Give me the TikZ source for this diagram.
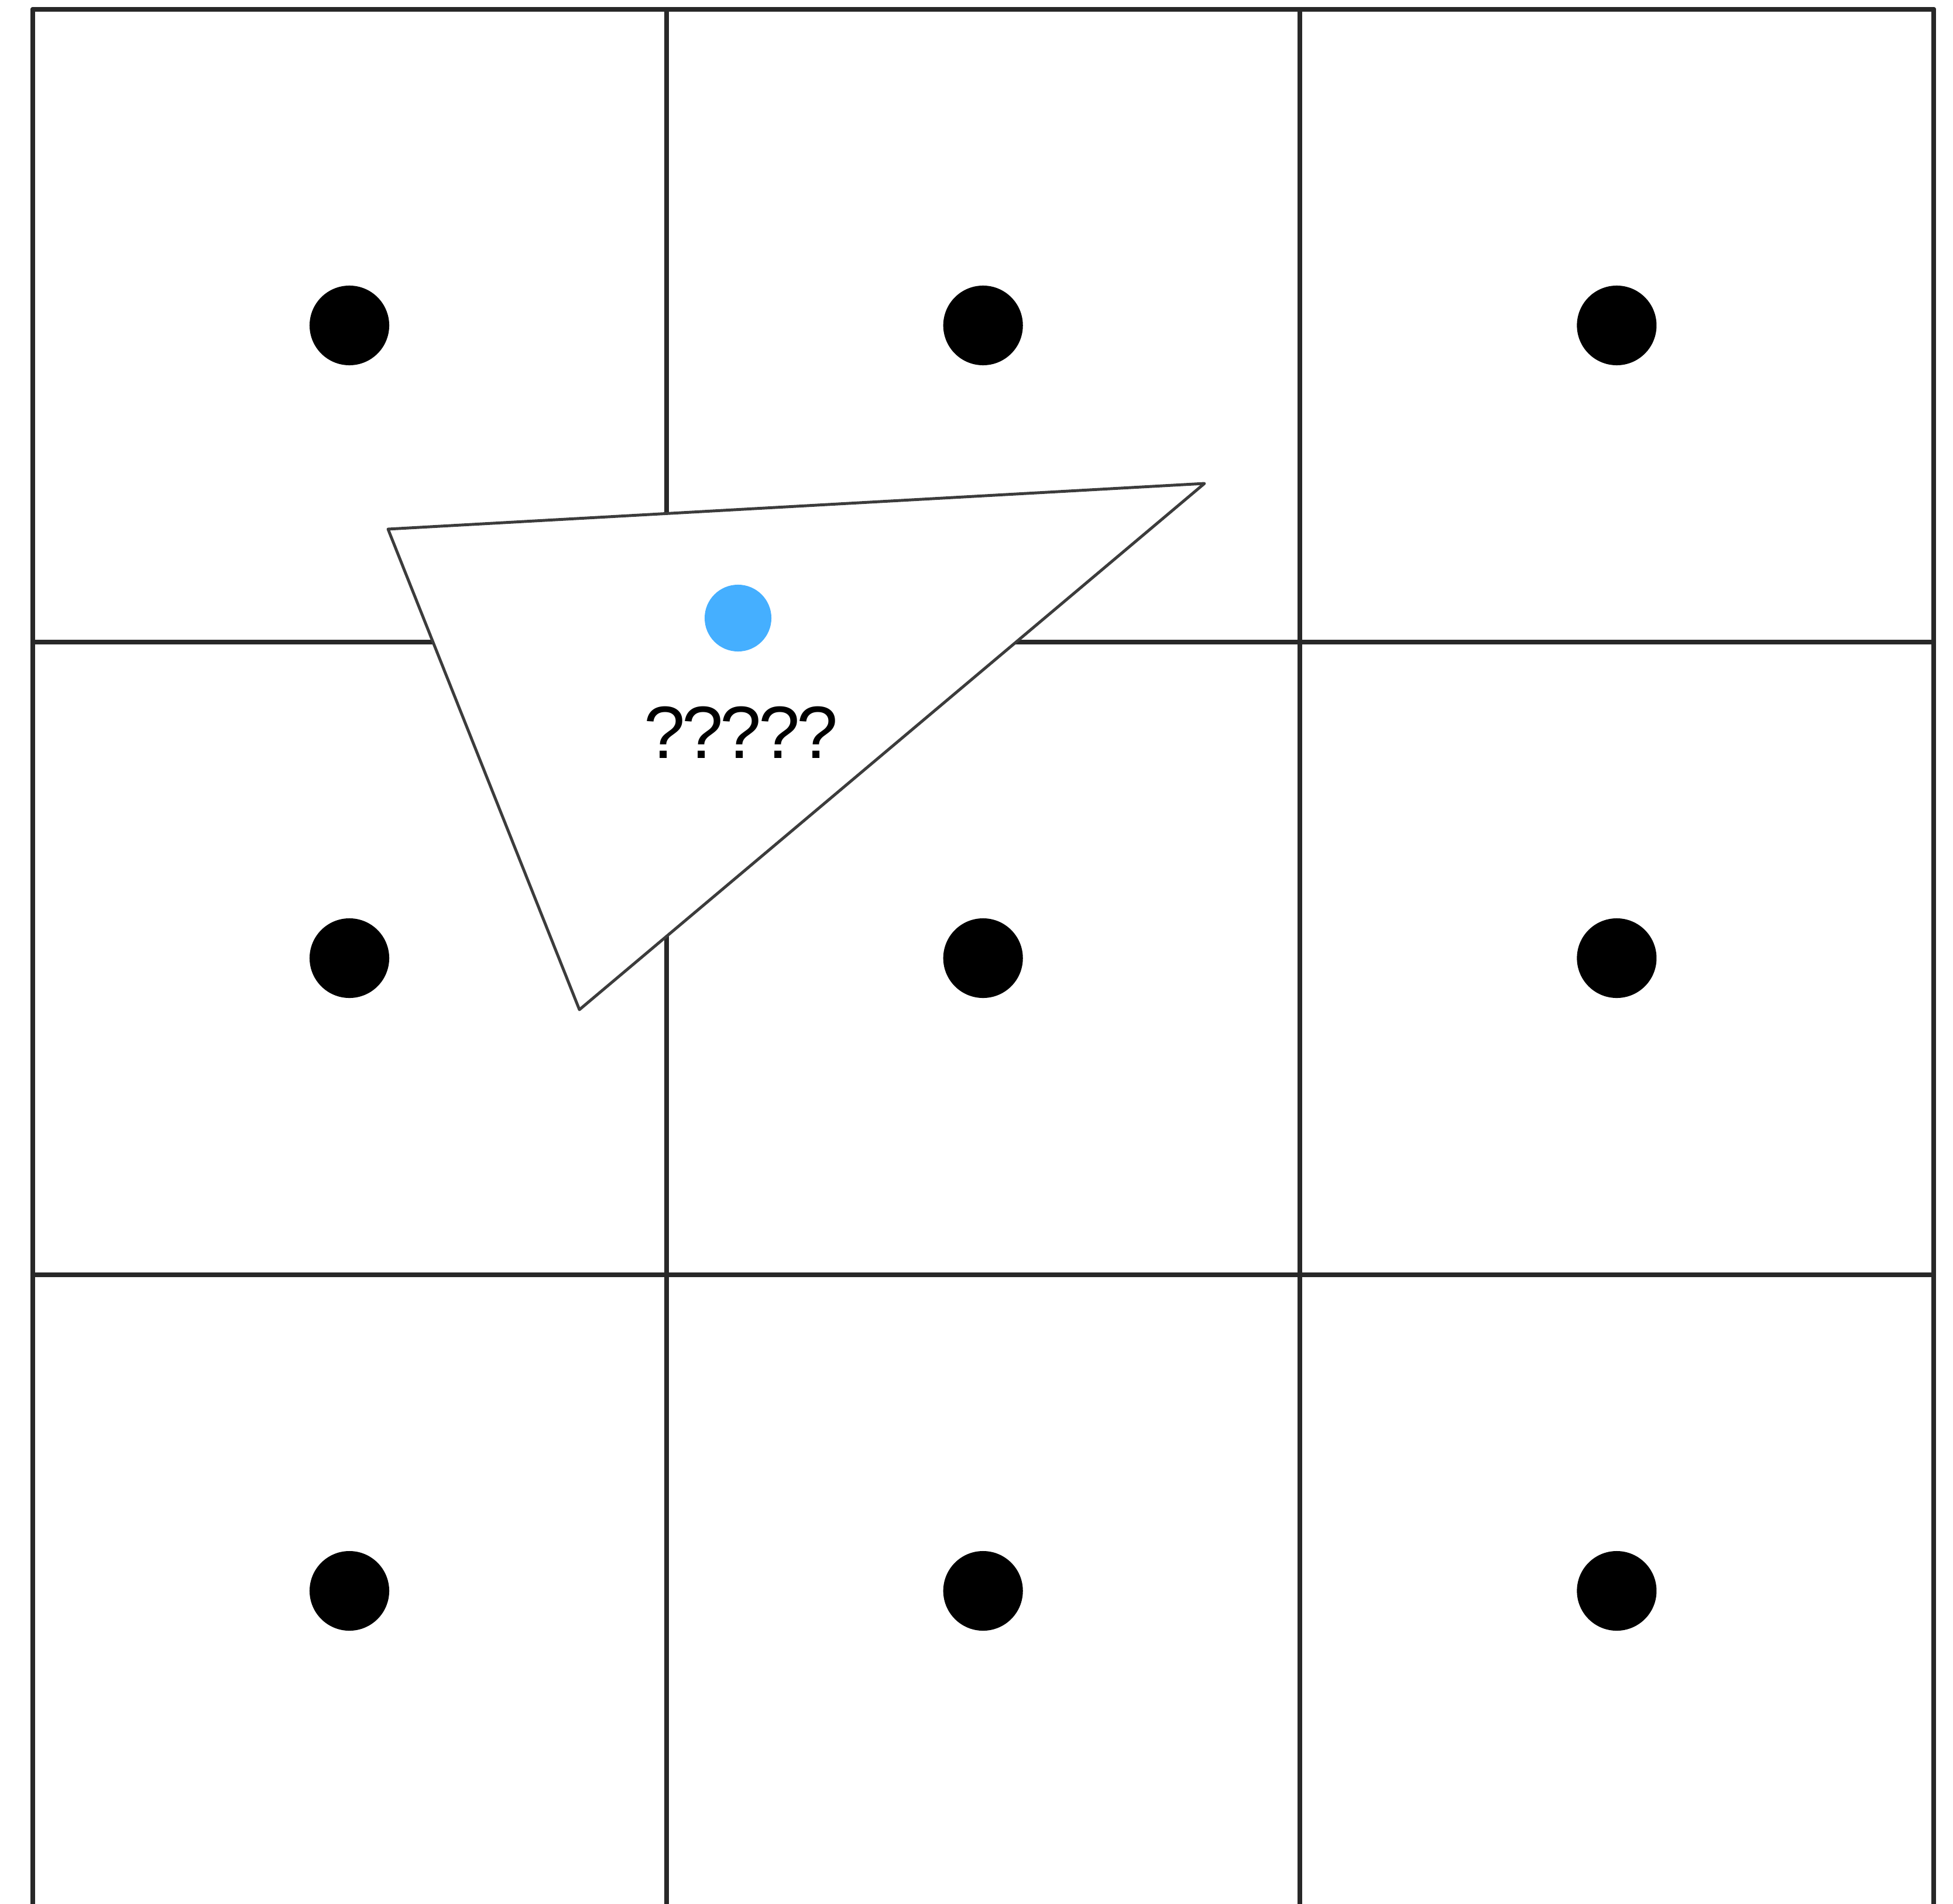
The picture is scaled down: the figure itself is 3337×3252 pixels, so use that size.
\documentclass[tikz,border=0pt]{standalone}
\usepackage{fontspec}
\setmainfont{Liberation Sans}
\usetikzlibrary{positioning}
\definecolor{gridgray}{RGB}{40,40,40}
\definecolor{edgegray}{RGB}{60,60,60}
\definecolor{probeblue}{RGB}{69,175,255}

\begin{document}
\begin{tikzpicture}[
  x=0.01cm, y=-0.01cm,
  gridline/.style={draw=gridgray, line width=2.3pt, line cap=round, line join=round},
  celldot/.style={circle, fill=black, inner sep=0pt, minimum size=1.36cm},
  probedot/.style={circle, fill=probeblue, inner sep=0pt, minimum size=1.14cm},
  every node/.style={font=\fontsize{36}{43}\selectfont\addfontfeature{LetterSpace=-4}}
]
  \useasboundingbox (0,0) rectangle (3337,3252);

  % Grid of cells (runs off the bottom)
  \foreach \i in {0,...,3}
    \draw[gridline] (56+1082.7*\i,16) -- (56+1082.7*\i,3320);
  \foreach \j in {0,...,2}
    \draw[gridline] (56,16+1081*\j) -- (3304,16+1081*\j);

  % Cell centres
  \foreach \i in {0,1,2}
    \foreach \j in {0,1,2}
      \node[celldot] (dot-\i-\j) at (597+1082.7*\i,556+1081*\j) {};

  % Triangle corners (white, hides the grid)
  \coordinate (tl) at (663,904);
  \coordinate (tr) at (2058,826);
  \coordinate (bt) at (990,1725);
  \draw[edgegray, fill=white, line width=1.4pt, line join=round] (tl) -- (tr) -- (bt) -- cycle;

  % Query point and its label
  \node[probedot] (probe) at (1261,1056) {};
  \node (query) [below=0.93cm of probe, inner sep=0pt, xshift=0.05cm] {?????};
\end{tikzpicture}
\end{document}
